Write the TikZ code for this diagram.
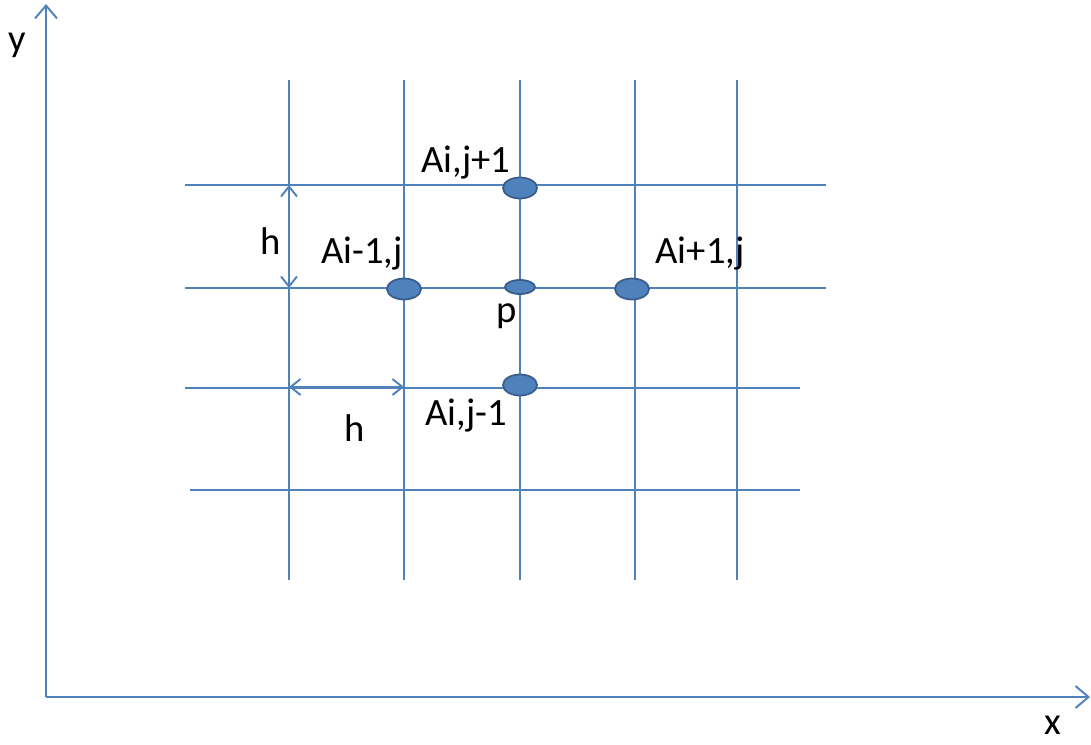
\documentclass[tikz,border=0pt]{standalone}
\usepackage{fontspec}
\setmainfont{Carlito}
\usepackage{tikz}
\usetikzlibrary{positioning,arrows.meta,shapes.geometric}
\definecolor{cGrid}{HTML}{4F81BD}
\definecolor{cDot}{HTML}{385D8A}

\begin{document}
\begin{tikzpicture}[
  x=0.02cm, y=-0.02cm,
  font=\fontsize{22}{26}\selectfont,
  gl/.style  ={draw=cGrid, line width=1.1pt},
  ax/.style  ={gl, -{Straight Barb[length=2.6mm,width=4.4mm,line width=1.1pt]}},
  dim/.style ={gl, {Straight Barb[length=2mm,width=3.2mm,line width=1.1pt]}-{Straight Barb[length=2mm,width=3.2mm,line width=1.1pt]}},
  pt/.style  ={ellipse, fill=cGrid, draw=cDot, line width=1pt, inner sep=0pt,
               minimum width=0.68cm, minimum height=0.42cm},
  ptsm/.style={pt, minimum width=0.6cm, minimum height=0.28cm},
  lbl/.style ={inner sep=0pt, text=black},
]
\useasboundingbox (0,0) rectangle (1091,744);

% axes
\coordinate (o)  at (46,697);
\coordinate (xe) at (1090,697);
\coordinate (ye) at (46,4);
\draw[ax] (o) -- (xe);
\draw[ax] (o) -- (ye);
\node[lbl] (ylab) at (17,45)   {y};
\node[lbl] (xlab) at (1053,725) {x};

% grid
\foreach \x in {289,404,520,635,737}{\draw[gl] (\x,80) -- (\x,580);}
\foreach \y/\a/\b in {185/185/826, 288/185/826, 388/185/800, 490/190/800}{\draw[gl] (\a,\y) -- (\b,\y);}

% stencil points
\node[pt]   (top)   at (520,188) {};
\node[pt]   (left)  at (404,289) {};
\node[ptsm] (p)     at (520,287) {};
\node[pt]   (right) at (632,289) {};
\node[pt]   (bot)   at (520,385) {};

\node[lbl] at (466,163) {Ai,j+1};
\node[lbl] at (362,254) {Ai-1,j};
\node[lbl] at (700,254) {Ai+1,j};
\node[lbl] at (507,316) {p};
\node[lbl] at (466,416) {Ai,j-1};

% spacing h
\coordinate (v1) at (289,185);
\coordinate (v2) at (289,288);
\coordinate (w1) at (289,387);
\coordinate (w2) at (404,387);
\draw[dim] (v1) -- (v2);
\draw[dim] (w1) -- (w2);
\node[lbl] (hv) at (271,241) {h};
\node[lbl] (hh) at (355,428) {h};
\end{tikzpicture}
\end{document}
